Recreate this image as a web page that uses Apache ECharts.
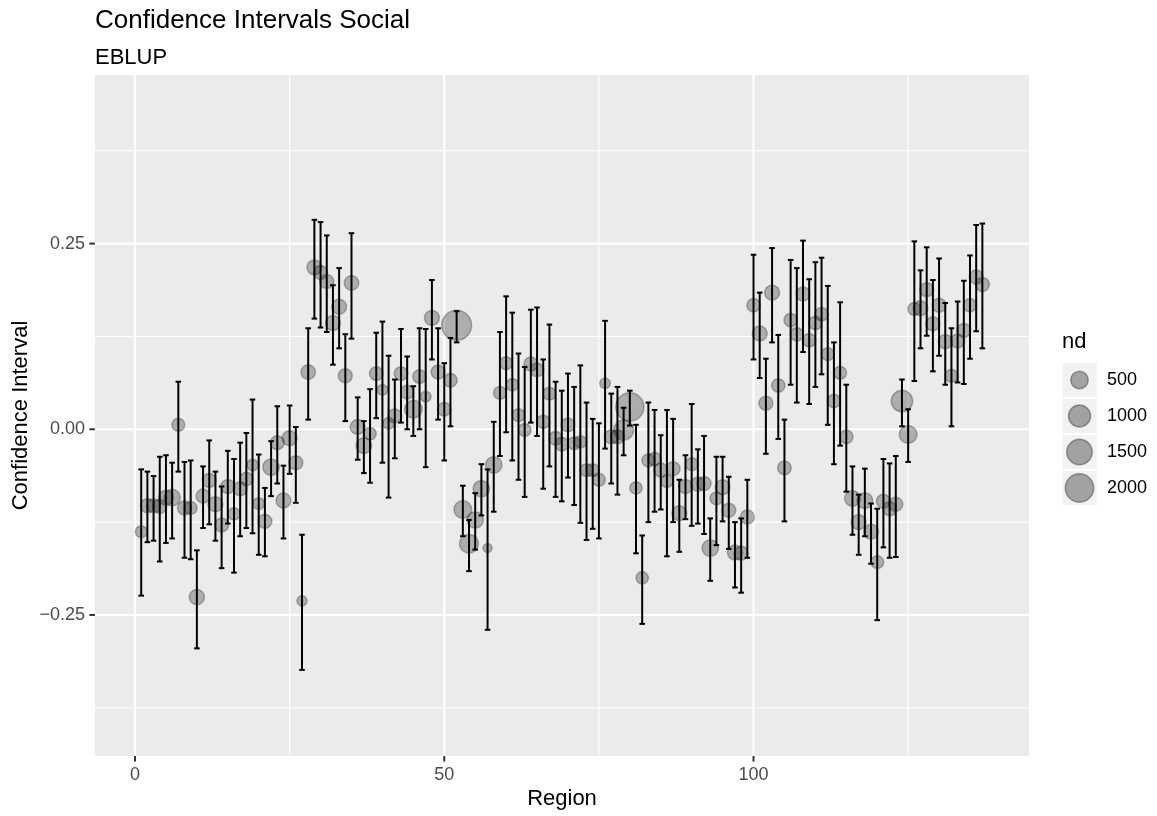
<!DOCTYPE html>
<html>
<head>
<meta charset="utf-8">
<script src="https://cdn.jsdelivr.net/npm/echarts@6/dist/echarts.min.js"></script>
<style>
html,body{margin:0;padding:0;background:#fff;}
#chart{width:1157px;height:816px;}
</style>
</head>
<body>
<div id="chart"></div>
<script>
// ---- data ----
const region = [1,2,3,4,5,6,7,8,9,10,11,12,13,14,15,16,17,18,19,20,21,22,23,24,25,26,27,28,29,30,31,32,33,34,35,36,37,38,39,40,41,42,43,44,45,46,47,48,49,50,51,52,53,54,55,56,57,58,59,60,61,62,63,64,65,66,67,68,69,70,71,72,73,74,75,76,77,78,79,80,81,82,83,84,85,86,87,88,89,90,91,92,93,94,95,96,97,98,99,100,101,102,103,104,105,106,107,108,109,110,111,112,113,114,115,116,117,118,119,120,121,122,123,124,125,126,127,128,129,130,131,132,133,134,135,136,137];

const estimate = [
-0.138,-0.103,-0.103,-0.104,-0.092,-0.092,0.006,-0.106,-0.106,-0.226,
-0.090,-0.069,-0.101,-0.129,-0.077,-0.114,-0.080,-0.067,-0.048,-0.100,
-0.124,-0.051,-0.018,-0.096,-0.012,-0.045,-0.231,0.077,0.218,0.211,
0.199,0.143,0.165,0.072,0.197,0.003,-0.022,-0.006,0.075,0.053,
0.008,0.018,0.075,0.050,0.027,0.071,0.044,0.150,0.077,0.027,
0.066,0.140,-0.108,-0.154,-0.122,-0.080,-0.160,-0.048,0.049,0.089,
0.060,0.019,-0.001,0.088,0.080,0.010,0.048,-0.012,-0.020,0.006,
-0.019,-0.017,-0.055,-0.055,-0.068,0.062,-0.010,-0.010,-0.001,0.030,
-0.079,-0.200,-0.042,-0.040,-0.055,-0.070,-0.053,-0.113,-0.077,-0.047,
-0.074,-0.073,-0.160,-0.093,-0.078,-0.109,-0.166,-0.167,-0.118,0.167,
0.129,0.035,0.184,0.059,-0.052,0.147,0.128,0.182,0.120,0.143,
0.155,0.101,0.038,0.076,-0.010,-0.093,-0.125,-0.096,-0.138,-0.179,
-0.097,-0.107,-0.101,0.038,-0.007,0.162,0.163,0.188,0.142,0.167,
0.118,0.072,0.119,0.133,0.167,0.205,0.195
];

const lower = [
-0.224,-0.152,-0.150,-0.178,-0.153,-0.147,-0.057,-0.173,-0.175,-0.295,
-0.133,-0.128,-0.150,-0.187,-0.127,-0.193,-0.144,-0.133,-0.140,-0.169,
-0.171,-0.090,-0.073,-0.147,-0.060,-0.099,-0.324,0.013,0.149,0.137,
0.131,0.087,0.109,0.011,0.122,-0.041,-0.059,-0.072,0.015,-0.045,
-0.092,-0.039,0.009,0.000,-0.009,0.000,-0.051,0.094,0.013,-0.042,
0.004,0.117,-0.144,-0.191,-0.162,-0.116,-0.270,-0.111,-0.036,-0.004,
-0.042,-0.068,-0.091,0.009,-0.009,-0.080,-0.050,-0.091,-0.097,-0.065,
-0.102,-0.126,-0.149,-0.134,-0.147,-0.026,-0.073,-0.088,-0.035,0.005,
-0.167,-0.262,-0.125,-0.111,-0.108,-0.171,-0.125,-0.165,-0.121,-0.130,
-0.127,-0.141,-0.204,-0.156,-0.124,-0.161,-0.213,-0.220,-0.173,0.094,
0.069,-0.033,0.117,-0.013,-0.124,0.060,0.036,0.104,0.034,0.057,
0.074,0.006,-0.047,-0.022,-0.084,-0.142,-0.169,-0.144,-0.181,-0.257,
-0.159,-0.173,-0.172,0.004,-0.044,0.065,0.109,0.126,0.078,0.099,
0.060,0.004,0.063,0.061,0.095,0.132,0.109
];

const upper = [
-0.054,-0.057,-0.063,-0.037,-0.035,-0.045,0.064,-0.044,-0.042,-0.163,
-0.050,-0.015,-0.057,-0.077,-0.029,-0.040,-0.018,-0.005,0.040,-0.034,
-0.079,-0.016,0.031,-0.049,0.032,0.003,-0.142,0.136,0.282,0.279,
0.261,0.194,0.217,0.128,0.264,0.043,0.011,0.054,0.130,0.145,
0.099,0.067,0.135,0.098,0.058,0.136,0.135,0.201,0.136,0.089,
0.123,0.159,-0.076,-0.122,-0.086,-0.047,-0.054,0.010,0.131,0.179,
0.157,0.102,0.084,0.161,0.164,0.094,0.141,0.064,0.052,0.075,
0.057,0.086,0.036,0.014,0.008,0.146,0.048,0.057,0.029,0.052,
0.006,-0.143,0.036,0.026,-0.008,0.026,0.014,-0.068,-0.035,0.034,
-0.027,-0.009,-0.120,-0.037,-0.037,-0.064,-0.125,-0.120,-0.068,0.235,
0.184,0.095,0.244,0.127,0.013,0.228,0.217,0.254,0.202,0.225,
0.231,0.193,0.117,0.171,0.060,-0.050,-0.088,-0.053,-0.100,-0.107,
-0.040,-0.046,-0.036,0.067,0.027,0.253,0.214,0.245,0.201,0.230,
0.170,0.136,0.172,0.200,0.234,0.275,0.277
];

const nd = [
60,150,150,150,200,300,100,150,100,220,
150,150,200,150,150,80,150,120,50,60,
150,300,150,200,200,150,20,180,200,150,
150,200,200,150,180,200,250,80,130,30,
60,150,130,130,400,130,30,200,150,130,
130,2000,400,500,300,300,5,300,100,100,
80,100,100,150,130,120,100,130,130,130,
100,80,100,100,100,30,150,150,600,1700,
80,80,100,120,150,80,150,200,150,100,
150,150,300,100,200,150,200,150,150,120,
200,150,200,120,130,120,120,150,120,120,
120,100,120,100,120,250,200,250,200,100,
150,150,150,750,400,100,200,150,150,150,
150,100,150,150,120,150,150
];

const xBreaks = [0, 50, 100];
const xMinorBreaks = [25, 75, 125];
const yBreaks = [-0.25, 0, 0.25];
const yMinorBreaks = [-0.375, -0.125, 0.125, 0.375];
const legendBreaks = [500, 1000, 1500, 2000];

// ---- layout / style ----
const FONT = '"Liberation Sans", Arial, Helvetica, sans-serif';
const XMIN = -6.47, XMAX = 144.54;
const YMIN = -0.4399, YMAX = 0.4770;
const CAP = 0.9; // error bar cap width in region units
const TICK = 5.6;
const POINT_FILL = 'rgba(0,0,0,0.33)';
function pointSize(n) { return 8 + 0.492 * Math.sqrt(n); }

const chart = echarts.init(document.getElementById('chart'), null, {renderer: 'canvas'});

const pointData = region.map((r, i) => [r, estimate[i], nd[i]]);
const barData = region.map((r, i) => [r, lower[i], upper[i]]);
const vGrid = xBreaks.map(v => [v, 0, 1]).concat(xMinorBreaks.map(v => [v, 0, 0]));
const hGrid = yBreaks.map(v => [0, v, 1]).concat(yMinorBreaks.map(v => [0, v, 0]));
const xTickData = xBreaks.map(v => [v, 0]);
const yTickData = yBreaks.map(v => [0, v]);

function fmtY(v) {
  const s = Math.abs(v).toFixed(2);
  return (v < -1e-9 ? '\u2212' : '') + s;
}

const GL = 95, GT = 75, GR = 1029, GB = 756;

const legendGraphics = [];
legendGraphics.push({type:'text', left: 1062, top: 331, style:{text:'nd', font: '22px ' + FONT, fill:'#000'}});
legendBreaks.forEach((b, i) => {
  const cy = 380 + i * 36;
  legendGraphics.push({type:'rect', shape:{x:1062, y:cy-17.5, width:35, height:35}, style:{fill:'#F2F2F2', stroke:'#fff', lineWidth:1}});
  legendGraphics.push({type:'circle', shape:{cx:1079.5, cy:cy, r:pointSize(b)/2 - 0.75}, style:{fill:POINT_FILL, stroke:POINT_FILL, lineWidth:1.5}});
  legendGraphics.push({type:'text', x:1107, y:cy, style:{text:String(b), font:'18px ' + FONT, fill:'#000', textVerticalAlign:'middle', textAlign:'left'}});
});

const option = {
  backgroundColor: '#ffffff',
  animation: false,
  grid: {left: GL, top: GT, right: 1157 - GR, bottom: 816 - GB, show: true, backgroundColor: '#EBEBEB', borderWidth: 0, containLabel: false},
  xAxis: {
    type: 'value', min: XMIN, max: XMAX,
    axisLine: {show: false},
    axisTick: {show: false},
    axisLabel: {show: true, customValues: xBreaks, fontSize: 18, color: '#4D4D4D', margin: 10, fontFamily: FONT},
    splitLine: {show: false}
  },
  yAxis: {
    type: 'value', min: YMIN, max: YMAX,
    axisLine: {show: false},
    axisTick: {show: false},
    axisLabel: {show: true, customValues: yBreaks, fontSize: 18, color: '#4D4D4D', margin: 10, fontFamily: FONT, formatter: fmtY},
    splitLine: {show: false}
  },
  graphic: [
    {type:'text', x: 95, y: 21, style:{text:'Confidence Intervals Social', font:'26px ' + FONT, fill:'#000', textVerticalAlign:'middle'}},
    {type:'text', x: 95, y: 58, style:{text:'EBLUP', font:'22px ' + FONT, fill:'#000', textVerticalAlign:'middle'}},
    {type:'text', x: (GL + GR) / 2, y: 799, style:{text:'Region', font:'22px ' + FONT, fill:'#000', textAlign:'center', textVerticalAlign:'middle'}},
    {type:'text', x: 21, y: (GT + GB) / 2, rotation: Math.PI / 2, style:{text:'Confidence Interval', font:'22px ' + FONT, fill:'#000', textAlign:'center', textVerticalAlign:'middle'}}
  ].concat(legendGraphics),
  series: [
    {
      type: 'custom', name: 'vgrid', z: 1, silent: true,
      data: vGrid, encode: {x: 0, y: 1},
      renderItem: function (params, api) {
        const cs = params.coordSys;
        const x = api.coord([api.value(0), 0])[0];
        return {type: 'line', shape: {x1: x, y1: cs.y, x2: x, y2: cs.y + cs.height},
          style: {stroke: '#ffffff', lineWidth: api.value(2) ? 2.1 : 1.1}};
      }
    },
    {
      type: 'custom', name: 'hgrid', z: 1, silent: true,
      data: hGrid, encode: {x: 0, y: 1},
      renderItem: function (params, api) {
        const cs = params.coordSys;
        const y = api.coord([0, api.value(1)])[1];
        return {type: 'line', shape: {x1: cs.x, y1: y, x2: cs.x + cs.width, y2: y},
          style: {stroke: '#ffffff', lineWidth: api.value(2) ? 2.1 : 1.1}};
      }
    },
    {
      type: 'custom', name: 'xticks', z: 1, silent: true, clip: false,
      data: xTickData, encode: {x: 0, y: 1},
      renderItem: function (params, api) {
        const cs = params.coordSys;
        const x = api.coord([api.value(0), 0])[0];
        const y0 = cs.y + cs.height;
        return {type: 'line', shape: {x1: x, y1: y0, x2: x, y2: y0 + TICK},
          style: {stroke: '#333333', lineWidth: 2}};
      }
    },
    {
      type: 'custom', name: 'yticks', z: 1, silent: true, clip: false,
      data: yTickData, encode: {x: 0, y: 1},
      renderItem: function (params, api) {
        const cs = params.coordSys;
        const y = api.coord([0, api.value(1)])[1];
        return {type: 'line', shape: {x1: cs.x - TICK, y1: y, x2: cs.x, y2: y},
          style: {stroke: '#333333', lineWidth: 2}};
      }
    },
    {
      type: 'scatter', name: 'nd', z: 2,
      data: pointData,
      symbol: 'circle',
      symbolSize: function (v) { return pointSize(v[2]); },
      itemStyle: {color: POINT_FILL, borderColor: POINT_FILL, borderWidth: 1.5},
      emphasis: {disabled: true}
    },
    {
      type: 'custom', name: 'ci', z: 3,
      data: barData, encode: {x: 0, y: [1, 2]},
      renderItem: function (params, api) {
        const r = api.value(0);
        const pLo = api.coord([r, api.value(1)]);
        const pHi = api.coord([r, api.value(2)]);
        const hw = api.size([CAP, 0])[0] / 2;
        const st = {stroke: '#000000', lineWidth: 2};
        return {type: 'group', children: [
          {type: 'line', shape: {x1: pLo[0], y1: pLo[1], x2: pHi[0], y2: pHi[1]}, style: st},
          {type: 'line', shape: {x1: pHi[0] - hw, y1: pHi[1], x2: pHi[0] + hw, y2: pHi[1]}, style: st},
          {type: 'line', shape: {x1: pLo[0] - hw, y1: pLo[1], x2: pLo[0] + hw, y2: pLo[1]}, style: st}
        ]};
      }
    }
  ]
};
chart.setOption(option);
</script>
</body>
</html>
